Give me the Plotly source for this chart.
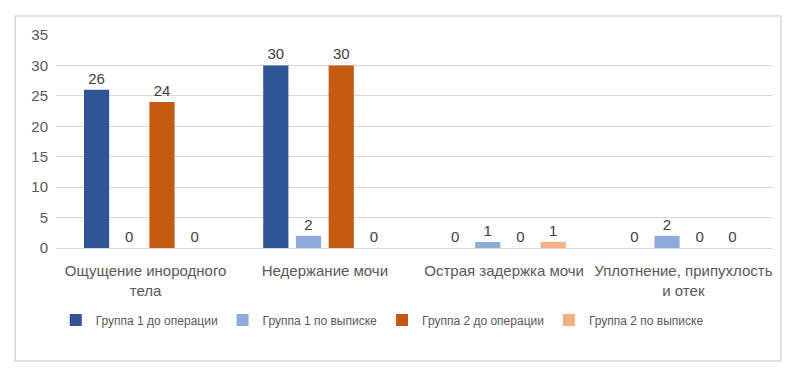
import plotly.graph_objects as go

categories = ["Ощущение инородного<br>тела", "Недержание мочи", "Острая задержка мочи", "Уплотнение, припухлость<br>и отек"]
series_names = ["Группа 1 до операции", "Группа 1 по выписке", "Группа 2 до операции", "Группа 2 по выписке"]
g1_before = [26, 30, 0, 0]
g1_discharge = [0, 2, 1, 2]
g2_before = [24, 30, 0, 0]
g2_discharge = [0, 0, 1, 0]
colors = ["#2F5597", "#8FAADC", "#C55A11", "#F4B183"]
y_ticks = [0, 5, 10, 15, 20, 25, 30, 35]

font_family = "Liberation Sans"
text_color = "#595959"

fig = go.Figure()
for name, vals, col in zip(series_names, [g1_before, g1_discharge, g2_before, g2_discharge], colors):
    fig.add_trace(go.Bar(
        x=categories, y=vals, name=name,
        marker=dict(color=col, line=dict(width=0)),
        text=[str(v) for v in vals], textposition="outside",
        textfont=dict(size=15, color="#404040", family=font_family),
        cliponaxis=False,
    ))

# page body has an 8px margin, so the figure is 8px smaller than the window
fig.update_layout(
    width=792, height=367,
    paper_bgcolor="white", plot_bgcolor="white",
    margin=dict(l=48, r=27, t=27, b=127, autoexpand=False),
    barmode="group", bargap=0.27, bargroupgap=0.23,
    font=dict(family=font_family, size=14, color=text_color),
    showlegend=True,
    legend=dict(orientation="h", x=0.455, xanchor="center", y=-0.338, yanchor="middle",
                font=dict(size=12, color=text_color), itemwidth=30,
                traceorder="normal"),
    xaxis=dict(showgrid=False, showline=False, ticks="", automargin=False, ticklabelstandoff=12,
               tickfont=dict(size=15, color=text_color)),
    yaxis=dict(range=[0, 35], tickvals=y_ticks, showgrid=True, gridcolor="#D9D9D9", gridwidth=1,
               zeroline=True, zerolinecolor="#D9D9D9", zerolinewidth=1, automargin=False,
               showline=False, ticks="", ticklabelstandoff=7, tickfont=dict(size=15, color=text_color)),
    shapes=[dict(type="rect", xref="paper", yref="paper", x0=-0.057, x1=1.011, y0=-0.530, y1=1.089,
                 line=dict(color="#D9D9D9", width=1.5), fillcolor="rgba(0,0,0,0)", layer="below")],
)

fig.write_html("out.html")
